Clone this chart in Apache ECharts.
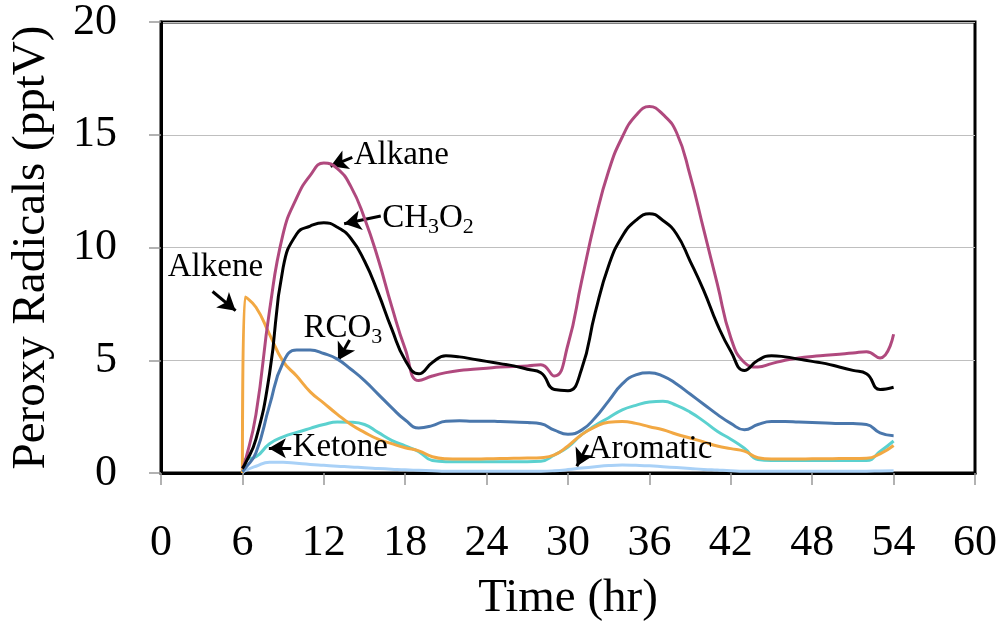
<!DOCTYPE html>
<html>
<head>
<meta charset="utf-8">
<script src="https://cdn.jsdelivr.net/npm/echarts@6/dist/echarts.min.js"></script>
<style>
html,body{margin:0;padding:0;background:#fff;}
#chart{width:1000px;height:629px;}
</style>
</head>
<body>
<div id="chart"></div>
<script>
// Time axis (hours)
var hours = [6, 6.2, 7, 8, 9, 10, 11, 12, 13, 14, 15, 16, 17, 18, 19, 20, 21, 22, 23, 24, 25, 26, 27, 28, 29, 30, 31, 32, 33, 34, 35, 36, 37, 38, 39, 40, 41, 42, 43, 44, 45, 46, 47, 48, 49, 50, 51, 52, 53, 54];

// Peroxy radical mixing ratios (pptV)
var alkane = [0.2, 0.5, 2.6, 7.2, 10.6, 12.2, 13.2, 13.75, 13.5, 12.7, 11.3, 9.5, 7.4, 5.5, 4.1, 4.3, 4.45, 4.55, 4.6, 4.65, 4.7, 4.72, 4.75, 4.8, 4.3, 5.7, 8.5, 11.2, 13.4, 14.9, 15.85, 16.25, 15.9, 15.1, 13.2, 10.8, 8.4, 6.0, 4.9, 4.7, 4.85, 5.0, 5.1, 5.17, 5.22, 5.27, 5.32, 5.38, 5.1, 6.15];
var ch3o2 = [0.2, 0.4, 1.5, 4.4, 9.1, 10.6, 10.95, 11.1, 10.9, 10.4, 9.4, 8.0, 6.4, 5.0, 4.4, 4.9, 5.2, 5.15, 5.05, 4.95, 4.85, 4.75, 4.6, 4.45, 3.7, 3.65, 4.6, 7.1, 9.2, 10.5, 11.2, 11.5, 11.2, 10.6, 9.4, 8.1, 6.6, 5.4, 4.55, 5.0, 5.2, 5.15, 5.05, 4.95, 4.85, 4.7, 4.55, 4.4, 3.7, 3.8];
var rco3 = [0.05, 0.2, 0.9, 3.0, 4.9, 5.45, 5.45, 5.3, 5.05, 4.6, 4.1, 3.5, 2.9, 2.35, 2.0, 2.1, 2.3, 2.32, 2.3, 2.3, 2.28, 2.26, 2.24, 2.18, 1.9, 1.72, 1.9, 2.45, 3.2, 3.95, 4.35, 4.45, 4.3, 3.95, 3.5, 3.05, 2.6, 2.2, 1.92, 2.15, 2.28, 2.28, 2.26, 2.24, 2.22, 2.2, 2.19, 2.15, 1.78, 1.65];
var alkene = [0, 7.8, 7.35, 6.15, 4.95, 4.3, 3.6, 3.1, 2.6, 2.15, 1.8, 1.5, 1.3, 1.12, 0.98, 0.72, 0.63, 0.62, 0.62, 0.63, 0.64, 0.65, 0.66, 0.68, 0.8, 1.2, 1.7, 2.05, 2.25, 2.28, 2.2, 2.05, 1.92, 1.72, 1.55, 1.38, 1.2, 1.08, 0.97, 0.68, 0.62, 0.62, 0.62, 0.63, 0.63, 0.64, 0.64, 0.65, 0.85, 1.22];
var ketone = [0.5, 0.6, 0.72, 1.3, 1.6, 1.8, 1.98, 2.15, 2.26, 2.25, 2.15, 1.8, 1.45, 1.2, 0.95, 0.55, 0.5, 0.5, 0.5, 0.5, 0.5, 0.5, 0.5, 0.52, 0.8, 1.15, 1.7, 2.1, 2.45, 2.8, 3.0, 3.15, 3.18, 3.0, 2.7, 2.3, 1.85, 1.5, 1.1, 0.6, 0.55, 0.55, 0.55, 0.55, 0.55, 0.55, 0.55, 0.55, 0.95, 1.42];
var aromatic = [0, 0.1, 0.3, 0.48, 0.48, 0.43, 0.38, 0.34, 0.3, 0.27, 0.23, 0.2, 0.17, 0.14, 0.12, 0.1, 0.08, 0.08, 0.08, 0.08, 0.08, 0.08, 0.08, 0.08, 0.1, 0.15, 0.22, 0.28, 0.33, 0.35, 0.34, 0.32, 0.28, 0.24, 0.2, 0.16, 0.13, 0.1, 0.08, 0.08, 0.08, 0.08, 0.08, 0.08, 0.08, 0.08, 0.08, 0.08, 0.09, 0.1];

// Axis ticks
var xTicks = [0, 6, 12, 18, 24, 30, 36, 42, 48, 54, 60];
var yTicks = [0, 5, 10, 15, 20];

// Annotation texts (label, text anchor, arrow tail, arrow head) in data units
var annoNames = ['Alkane', 'CH3O2', 'Alkene', 'RCO3', 'Ketone', 'Aromatic'];
var annoText = [[14.2, 14.1], [16.3, 11.3], [0.5, 9.1], [10.5, 6.4], [9.7, 1.12], [31.45, 1.05]];
var annoTail = [[14.1, 14.0], [16.2, 11.4], [3.8, 8.05], [13.9, 5.9], [9.6, 1.1], [31.45, 1.25]];
var annoHead = [[12.5, 13.6], [13.5, 11.05], [5.5, 7.2], [13.05, 5.0], [7.95, 1.1], [30.65, 0.3]];

var FONT = "'Liberation Serif','Times New Roman',serif";

function pairs(ys) { return hours.map(function (h, i) { return [h, ys[i]]; }); }

var formatters = {
  'Alkane': '{n|Alkane}',
  'CH3O2': '{n|CH}{s|3}{n|O}{s|2}',
  'Alkene': '{n|Alkene}',
  'RCO3': '{n|RCO}{s|3}',
  'Ketone': '{n|Ketone}',
  'Aromatic': '{n|Aromatic}'
};

function lineSeries(name, ys, color, z) {
  return {
    name: name, type: 'line', data: pairs(ys), showSymbol: false, symbol: 'none',
    smooth: 0.5, z: z,
    lineStyle: { color: color, width: 3 }, itemStyle: { color: color }, silent: true, animation: false
  };
}

var chart = echarts.init(document.getElementById('chart'), null, { renderer: 'canvas' });
chart.setOption({
  animation: false,
  backgroundColor: '#fff',
  grid: { left: 157, right: 25, top: 17, bottom: 156, show: true, borderColor: '#000', borderWidth: 3, containLabel: false },
  xAxis: {
    type: 'value', min: xTicks[0], max: xTicks[xTicks.length - 1], interval: 6,
    name: 'Time (hr)', nameLocation: 'middle', nameGap: 102,
    nameTextStyle: { fontFamily: FONT, fontSize: 47, color: '#000' },
    axisLine: { show: true, lineStyle: { color: '#000', width: 3 } },
    axisTick: { show: true, length: 12, lineStyle: { color: '#999', width: 1.5 } },
    axisLabel: { fontFamily: FONT, fontSize: 44, color: '#000', margin: 48 },
    splitLine: { show: false }
  },
  yAxis: {
    type: 'value', min: yTicks[0], max: yTicks[yTicks.length - 1], interval: 5,
    name: 'Peroxy Radicals (pptV)', nameLocation: 'middle', nameGap: 106,
    nameTextStyle: { fontFamily: FONT, fontSize: 47, color: '#000' },
    axisLine: { show: true, lineStyle: { color: '#000', width: 3 } },
    axisTick: { show: true, length: 12, lineStyle: { color: '#999', width: 1.5 } },
    axisLabel: { fontFamily: FONT, fontSize: 44, color: '#000', margin: 44 },
    splitLine: { show: true, lineStyle: { color: '#BFBFBF', width: 1.2 } }
  },
  series: [
    lineSeries('Aromatic', aromatic, '#A9D1F7', 2),
    lineSeries('Ketone', ketone, '#5BD1CF', 3),
    lineSeries('Alkene', alkene, '#F2A843', 4),
    lineSeries('RCO3', rco3, '#4A77AC', 5),
    lineSeries('Alkane', alkane, '#B0497E', 6),
    lineSeries('CH3O2', ch3o2, '#000000', 7),
    {
      name: 'annotations', type: 'line', data: [], silent: true, z: 10,
      markLine: {
        silent: true, animation: false,
        symbol: ['none', 'arrow'], symbolSize: [15, 17],
        lineStyle: { color: '#000', width: 3, type: 'solid' },
        label: { show: false },
        data: annoNames.map(function (n, i) {
          return [{ coord: annoTail[i] }, { coord: annoHead[i] }];
        })
      },
      markPoint: {
        silent: true, animation: false,
        symbol: 'circle', symbolSize: 0,
        data: annoNames.map(function (n, i) {
          return {
            coord: annoText[i], symbolSize: 0,
            label: {
              show: true, position: 'right', distance: 0,
              formatter: formatters[n],
              rich: {
                n: { fontFamily: FONT, fontSize: 33, color: '#000', lineHeight: 40, verticalAlign: 'middle' },
                s: { fontFamily: FONT, fontSize: 22, color: '#000', lineHeight: 18, verticalAlign: 'bottom' }
              }
            }
          };
        })
      }
    }
  ]
});
</script>
</body>
</html>
